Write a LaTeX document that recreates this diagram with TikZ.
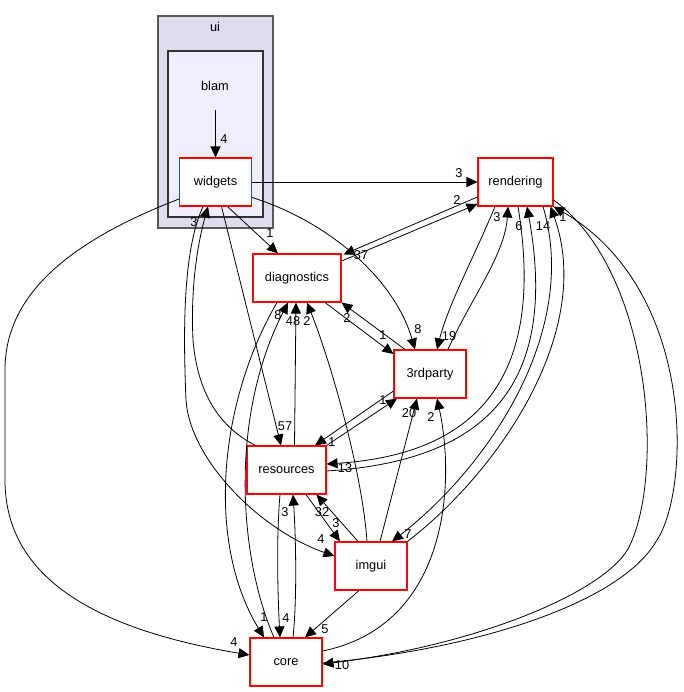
\documentclass[tikz,border=0pt]{standalone}
\usepackage{fontspec}
\setmainfont{Liberation Sans}
\usetikzlibrary{arrows.meta}
\definecolor{clouter}{HTML}{DDDDEE}
\definecolor{clinner}{HTML}{EEEEFF}
\tikzset{
  dirbox/.style={draw=red, line width=1.1pt, fill=white, inner sep=0pt,
    font=\fontsize{12.8}{15}\selectfont},
  dep/.style={draw=black, line width=0.8pt, -{Triangle[length=11pt,width=10pt]}},
  dlbl/.style={inner sep=0pt, font=\fontsize{12.8}{14}\selectfont},
  cllbl/.style={inner sep=0pt, font=\fontsize{12.8}{15}\selectfont},
}
\begin{document}
\begin{tikzpicture}[x=1pt,y=-1pt]
\useasboundingbox (0,0) rectangle (683,692);
\fill[white] (0,0) rectangle (683,692);
% clusters
\draw[fill=clouter, draw=black!65, line width=1.4pt] (158,16) rectangle (273,228);
\node[cllbl] (uilbl) at (215,27) {ui};
\draw[fill=clinner, draw=black!80, line width=1.4pt] (168,51) rectangle (263,217);
\node[cllbl] (blamlbl) at (215,86) {blam};
\coordinate (blamsrc) at (215.5,110);
% nodes
\node[dirbox, minimum width=72pt, minimum height=48pt] (widgets) at (215.5,182) {widgets};
\node[dirbox, minimum width=75pt, minimum height=48pt] (rendering) at (515.5,182) {rendering};
\node[dirbox, minimum width=88pt, minimum height=48pt] (diagnostics) at (297,278) {diagnostics};
\node[dirbox, minimum width=72pt, minimum height=48pt] (3rdparty) at (430,374) {3rdparty};
\node[dirbox, minimum width=79pt, minimum height=48pt] (resources) at (286.5,470) {resources};
\node[dirbox, minimum width=72pt, minimum height=48pt] (imgui) at (371,566) {imgui};
\node[dirbox, minimum width=72pt, minimum height=48pt] (core) at (286,662) {core};
% edges
\draw[dep] (blamsrc) -- (widgets.north);
\draw[dep] (widgets.east) -- (rendering.west);
\draw[dep] ([xshift=12pt]widgets.south) -- ([xshift=-19pt]diagnostics.north);
\draw[dep] ([yshift=-15.5pt]widgets.east) .. controls (330,222) and (395,280) .. ([xshift=-15pt]3rdparty.north);
\draw[dep] ([xshift=6pt]widgets.south) -- ([xshift=-5.5pt]resources.north);
\draw[dep] ([yshift=-17pt]widgets.west) .. controls (60,245) and (5,300) .. (5,370) -- (5,480) .. controls (5,580) and (100,630) .. ([yshift=7pt]core.west);
\draw[dep] ([xshift=-12.5pt]widgets.south) .. controls (183,250) and (183,330) .. (186,400) .. controls (190,460) and (260,530) .. ([yshift=10pt]imgui.west);
\draw[dep] ([xshift=-31pt]resources.north) .. controls (225,430) and (198,400) .. (193,340) .. controls (190,280) and (200,235) .. ([xshift=-7.5pt]widgets.south);
\draw[dep] ([yshift=17pt]diagnostics.east) -- ([yshift=-22pt]rendering.west);
\draw[dep] ([yshift=-15pt]rendering.west) -- ([xshift=2pt,yshift=-1pt]diagnostics.north east);
\draw[dep] ([xshift=28pt]diagnostics.south) -- ([yshift=20pt]3rdparty.west);
\draw[dep] ([xshift=-25pt]3rdparty.north) -- (diagnostics.south east);
\draw[dep] ([xshift=-20.5pt]rendering.south) .. controls (475,255) and (448,305) .. ([xshift=7pt]3rdparty.north);
\draw[dep] ([xshift=18pt]3rdparty.north) .. controls (470,300) and (505,255) .. ([xshift=-7.5pt]rendering.south);
\draw[dep] ([yshift=-1pt]resources.east) .. controls (470,462) and (562,400) .. ([xshift=11.5pt]rendering.south);
\draw[dep] ([xshift=2.5pt]rendering.south) .. controls (548,390) and (465,455) .. ([yshift=6pt]resources.east);
\draw[dep] (imgui.north east) .. controls (500,470) and (595,330) .. ([xshift=35pt]rendering.south);
\draw[dep] ([xshift=27.5pt]rendering.south) .. controls (580,330) and (490,465) .. ([xshift=21pt]imgui.north);
\draw[dep] ([yshift=-1pt]core.east) .. controls (470,650) and (620,605) .. (657,540) .. controls (690,490) and (697,290) .. (rendering.south east);
\draw[dep] ([yshift=-18pt]rendering.east) .. controls (650,270) and (665,470) .. (630,545) .. controls (610,590) and (480,645) .. ([yshift=-2pt]core.east);
\draw[dep] ([yshift=11pt]core.east) .. controls (450,625) and (455,480) .. ([xshift=7pt]3rdparty.south);
\draw[dep] ([xshift=9pt]imgui.north) -- ([xshift=-13pt]3rdparty.south);
\draw[dep] ([yshift=-17pt]3rdparty.west) -- ([xshift=28.5pt]resources.north);
\draw[dep] (resources.north east) -- ([xshift=-33pt]3rdparty.south);
\draw[dep] ([xshift=-13pt]imgui.north) -- ([xshift=30pt]resources.south);
\draw[dep] ([xshift=19.5pt]resources.south) -- ([xshift=-31pt]imgui.north);
\draw[dep] ([xshift=-12pt]imgui.south) -- ([xshift=19pt]core.north);
\draw[dep] ([xshift=-4pt]imgui.north) .. controls (362,470) and (330,360) .. ([xshift=10pt]diagnostics.south);
\draw[dep] ([xshift=8pt]resources.north) -- ([xshift=-1pt]diagnostics.south);
\draw[dep] ([xshift=-12pt]core.north) .. controls (240,560) and (228,420) .. ([xshift=-9pt]diagnostics.south);
\draw[dep] ([xshift=-20pt]diagnostics.south) .. controls (220,400) and (205,540) .. ([xshift=-22pt]core.north);
\draw[dep] ([xshift=-6.5pt]resources.south) .. controls (276,540) and (278,600) .. ([xshift=-6pt]core.north);
\draw[dep] ([xshift=7pt]core.north) .. controls (297,600) and (296,540) .. ([xshift=6.5pt]resources.south);
% labels
\node[dlbl] (t1) at (224,139) {4};
\node[dlbl] (t2) at (459,173) {3};
\node[dlbl] (t3) at (270,233) {1};
\node[dlbl] (t4) at (418,329) {8};
\node[dlbl] (t5) at (285,426) {57};
\node[dlbl] (t6) at (234,642) {4};
\node[dlbl] (t7) at (321,539) {4};
\node[dlbl] (t8) at (194,222) {3};
\node[dlbl] (t9) at (457,200) {2};
\node[dlbl] (t10) at (361,255) {37};
\node[dlbl] (t11) at (383,335) {1};
\node[dlbl] (t12) at (347,318) {2};
\node[dlbl] (t13) at (449,336) {19};
\node[dlbl] (t14) at (497,217) {3};
\node[dlbl] (t15) at (519,226) {6};
\node[dlbl] (t16) at (345,468) {13};
\node[dlbl] (t17) at (543,226) {14};
\node[dlbl] (t18) at (408,534) {7};
\node[dlbl] (t19) at (563,217) {1};
\node[dlbl] (t20) at (342,665) {10};
\node[dlbl] (t21) at (431,417) {2};
\node[dlbl] (t22) at (409,413) {20};
\node[dlbl] (t23) at (332,442) {1};
\node[dlbl] (t24) at (383,400) {1};
\node[dlbl] (t25) at (322,512) {32};
\node[dlbl] (t26) at (336,523) {3};
\node[dlbl] (t27) at (325,629) {5};
\node[dlbl] (t28) at (307,321) {2};
\node[dlbl] (t29) at (293,321) {48};
\node[dlbl] (t30) at (278,315) {8};
\node[dlbl] (t31) at (264,617) {1};
\node[dlbl] (t32) at (286,618) {4};
\node[dlbl] (t33) at (285,512) {3};
\end{tikzpicture}
\end{document}
